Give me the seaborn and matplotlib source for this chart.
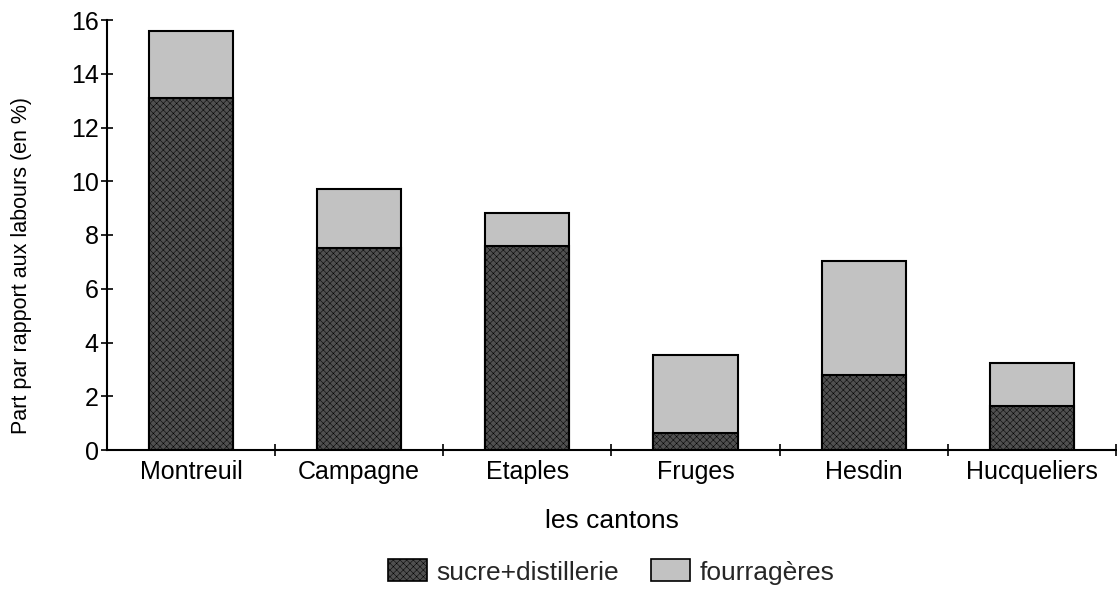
import matplotlib
matplotlib.use("Agg")
import matplotlib.pyplot as plt
import matplotlib.font_manager as fm
from matplotlib.patches import Patch
from matplotlib.ticker import FixedLocator
import numpy as np
import pandas as pd
import seaborn as sns

cantons = ["Montreuil", "Campagne", "Etaples", "Fruges", "Hesdin", "Hucqueliers"]
sucre_distillerie = [13.1, 7.5, 7.6, 0.62, 2.8, 1.65]
fourrageres = [2.5, 2.22, 1.22, 2.9, 4.22, 1.57]
yticks = [0, 2, 4, 6, 8, 10, 12, 14, 16]

sns.set_theme(style="white")
names = {f.name for f in fm.fontManager.ttflist}
fam = "Liberation Sans" if "Liberation Sans" in names else "DejaVu Sans"
plt.rcParams["font.family"] = [fam, "DejaVu Sans"]
plt.rcParams["hatch.linewidth"] = 0.35

df = pd.DataFrame({
    "canton": cantons,
    "sucre": sucre_distillerie,
    "fourr": fourrageres,
})
df["total"] = df["sucre"] + df["fourr"]

fig = plt.figure(figsize=(11.17, 5.95), dpi=100)
ax = fig.add_axes([107 / 1117, 1 - 450 / 595, 1 - 107 / 1117 - 0.001, (450 - 20) / 595])

light = "#c2c2c2"
dark = "#505050"
sns.barplot(data=df, x="canton", y="total", color=light, saturation=1,
            width=0.5, edgecolor="black", linewidth=1.5, ax=ax, errorbar=None)
sns.barplot(data=df, x="canton", y="sucre", color=dark, saturation=1,
            width=0.5, edgecolor="black", linewidth=1.5, ax=ax, errorbar=None,
            hatch="xxxxx")

ax.set_xlim(-0.5, len(cantons) - 0.5)
ax.set_ylim(0, 16)
ax.set_yticks(yticks)
ax.set_yticklabels([str(v) for v in yticks], fontsize=18)
ax.tick_params(axis="y", direction="inout", length=8, width=1.2, color="black",
               left=True, pad=2, labelcolor="black")
ax.tick_params(axis="x", which="major", length=0, pad=7, labelsize=18, labelcolor="black")
ax.xaxis.set_minor_locator(FixedLocator([i + 0.5 for i in range(len(cantons))]))
ax.tick_params(axis="x", which="minor", direction="inout", length=8, width=1.2,
               color="black", bottom=True)

for s in ["top", "right"]:
    ax.spines[s].set_visible(False)
for s in ["left", "bottom"]:
    ax.spines[s].set_color("black")
    ax.spines[s].set_linewidth(1.5)

ax.set_xlabel("les cantons", fontsize=19, color="black")
ax.xaxis.set_label_coords(0.5, -(509 - 450) / 430)
ax.set_ylabel("Part par rapport aux labours (en %)", fontsize=15.5, color="black")
ax.yaxis.set_label_coords((32 - 107) / 1010, (450 - 265) / 430)

handles = [
    Patch(facecolor=dark, edgecolor="black", hatch="xxxxx", linewidth=1.2, label="sucre+distillerie"),
    Patch(facecolor=light, edgecolor="black", linewidth=1.2, label="fourragères"),
]
fig.legend(handles=handles, loc="center", bbox_to_anchor=(611 / 1117, 1 - 572 / 595),
           ncol=2, frameon=False, fontsize=19, handlelength=1.5, handleheight=0.9,
           columnspacing=1.2, handletextpad=0.35)

fig.savefig("out.png", dpi=100)
